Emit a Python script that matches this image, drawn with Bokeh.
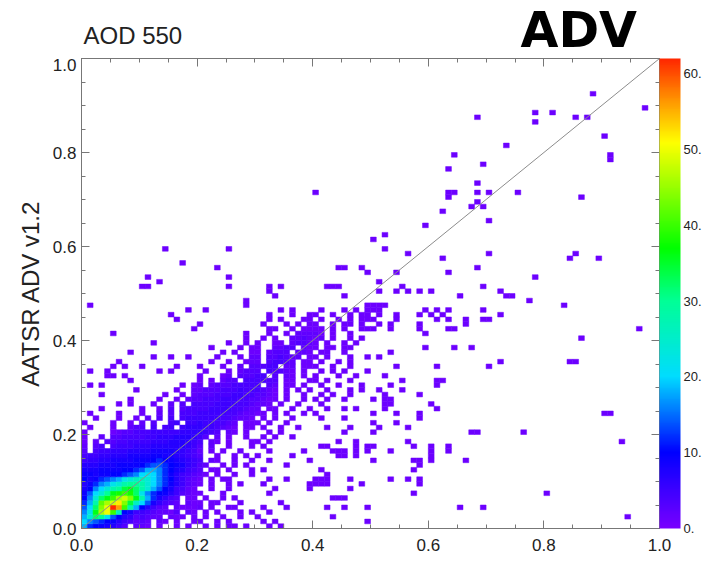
import numpy as np
from bokeh.plotting import figure
from bokeh.layouts import column
from bokeh.core.properties import value
from bokeh.models import (ColumnDataSource, LinearColorMapper, ColorBar, FixedTicker,
                          LinearAxis, SingleIntervalTicker, PrintfTickFormatter, Slope)
from bokeh.embed import file_html
from bokeh.resources import INLINE

# ---------------- data ----------------
BIN = 0.01  # histogram cell size in AOD units

# density rows, j = 0 (y 0.00-0.01) upward; each char is the count of x bin i = 0..59
# '.' = 0, '1'..'9' = 1..9, 'a'..'z' = 10,12,..,60, 'Z' = 62
density_rows = [
    "eba98753.2 21.1..1.1. .1.1.11.1. ..1.1..... .......... ..........",
    "fdcba97542 32.21.1..1 1..1.1.... .1.1...... .........1 ..........",
    "ehlkgca763 4322.211.1 .1..1..1.. 1......... ...1...... ..........",
    "dgnsupia85 5432213.21 .1.1...1.1 ..1....... .......... ..........",
    "cflruZxpje a7532.2111 2.1..11... .1...1.... ..1..1...1 ..........",
    "bejqstvrmi fc86432.21 1.11...1.. ....1..... .......... ..........",
    "adhlnpstrn jeb8643.11 .1..1.1... .......... ...111.... ..........",
    "9cfhknopol gdba975321 1...1..... ..1....... .......... .......1..",
    "8adfhjkmnl jheca85421 ..1..1.... ...1.....1 ......1... ..........",
    "79bdeghjkk jhfdb97532 1.1..1.1.. .1.......1 111.....1. ........1.",
    "a89bcdeghi ihfdba7532 1.1.11.... ..1..1.... 111...1... ...1..1.1.",
    "99899aabcd fgfdb97543 21.1..1..1 .......... ..1....... ..........",
    "8889999aab ceedba8754 3.11.1...1 .1........ .1........ .......1..",
    "7778889999 abccba9865 32..1.1.1. .....1.... .......... ........1.",
    "5667788889 99aba98765 4.21..1..1 ..1......1 .......... 1......11.",
    "4556677788 8899887654 3..1..1.1. 1.....1... ....11.1.. ..........",
    "3.45566677 7788887654 2.1.1..1.. ..1.....1. ...111.1.1 ...1......",
    "2.34.45556 6677777765 3.2..1...1 .1........ .11....1.1 1......1..",
    "1.2.334455 5566677765 4.21.1...1 1.1....... ....1..1.. ......1...",
    "1..2.33444 4556667776 53.2.1..1. .1.1..1... .......... ..........",
    "1....12334 4455555666 6543.21.1. ..1.1..... .....1.... 1.........",
    ".1...1..23 3.4.45.566 6554321.11 .1..1..1.. ..1...1... .1....1...",
    "1....1..1. 2.3..45.55 6554432.11 1.1..1.... .......... 1...1.....",
    "..1...1..1 .2.3.4.455 5555443221 .1.1..1... .1...1.... ........1.",
    ".1....1... 1..2.3.444 5555544322 11.1.1..1. 1......... 1...1...1.",
    "...1...... 1..1.3.344 4455554432 2.11..1..1 ..1..1.1.. ..1.......",
    "......1.1. ..1..2.3.4 4445555443 221.1..1.. .1........ ..11......",
    "........1. ...1..1.23 3444555443 3211.1..1. 1.1..1.... 1.11......",
    "...1...... ....1..1.2 3334445544 3321.1..1. .1.1..1... ..1.....1.",
    ".........1 ......1..2 2333444544 4321.1.1.1 ..1...1.1. .1...1....",
    ".1.1...... .......1.1 2.23334444 4.32.11.1. .1..1...1. ...1......",
    "........1. .......... 1.1.233.44 4433.11..1 1.1...1... .....1....",
    "....11.1.. .......... 1...12.333 44.3.21.1. 1...1..1.. ..1.......",
    ".1..1..... ...1.1.... .1...1.233 3.43321.1. .1.1.1...1 ..........",
    ".....1.1.. 1.....1... 1...1..2.3 3344.22.11 1..1..1... ....1.....",
    "......1... .......... ..1..1..12 2.34432.11 .1..1.1... ..........",
    ".......... ..1..1..1. ...1...1.2 2.334322.1 1.1...1..1 .1........",
    "........1. .......... ....1.1..1 1.2333.221 .11..1.... ...1......",
    ".......... .......... ..1....1.1 1..2233.21 1.11.11... .........1",
    ".......... ..1....... .....1..1. 1..11.2332 1.1..1.1.. ..........",
    ".......... .......... ........1. .1.1..2232 12.1..1.1. ..........",
    ".....1.... .......... ........1. ..1..1.222 21.1..1... .........1",
    ".......... .........1 .......... ..11..1.11 11.1.1..11 1..1....1.",
    ".......... .......... 1......... .1...1.1.1 1..1.11.1. .1.1....1.",
    ".......... ......1... .......... ..1.1...11 .1..1.1.11 1...1.....",
    ".......... .....1.... .......... ..1...1..1 1..1..1.11 .1..1...1.",
    ".......... ........1. .1........ ....1.1... .1...1.1.1 11.......1",
    ".1........ .......... ........1. .......... .........1 111.......",
    ".......... .......... ........1. .......... .......... ..........",
    ".......... .......... .......... ...1...... .....1.... ..........",
]

# isolated single-count cells outside the grid above (x bin, y bin)
outlier_i = [60, 65, 72, 73, 74, 77, 83, 61, 63, 60, 62, 61, 63, 69, 66, 66, 69, 70, 72,
             63, 64, 96, 86, 64, 67, 61, 70, 72, 84, 85, 61, 61, 62, 60, 61, 90, 91,
             67, 68, 76, 93, 60, 63, 60, 66, 80, 65, 69, 94, 58, 60, 63, 60,
             88, 97, 78, 81, 78, 68, 85, 87, 90, 91, 91, 73, 64, 63, 69, 68, 63, 64,
             63, 68, 70, 75, 68, 67, 69, 86, 62, 59, 70, 52, 52, 56, 62, 70, 84, 85,
             89, 54, 63, 68, 78, 55, 69, 51, 40,
             32, 32, 34, 42, 43, 44, 51, 54, 56, 25, 25, 44, 45, 48, 49, 25, 17, 23,
             50, 14, 11, 10, 11, 13]
outlier_j = [50, 49, 50, 49, 49, 48, 47, 46, 46, 45, 45, 44, 44, 46, 44, 43, 44, 44, 45,
             42, 42, 42, 40, 38, 38, 34, 34, 35, 35, 35, 31, 30, 31, 26, 25, 24, 24,
             20, 20, 20, 18, 16, 16, 14, 14, 7, 4, 4, 2, 50, 17, 17, 15,
             92, 89, 88, 88, 86, 87, 87, 87, 83, 79, 78, 81, 79, 76, 77, 73, 71, 71,
             70, 71, 71, 71, 69, 68, 68, 70, 67, 64, 65, 62, 59, 58, 57, 58, 57, 58,
             57, 54, 54, 55, 53, 51, 51, 52, 71,
             51, 50, 51, 51, 51, 51, 50, 50, 50, 51, 53, 55, 55, 55, 54, 59, 56, 55,
             61, 59, 53, 51, 51, 52]

cbar_ticks = [0, 10, 20, 30, 40, 50, 60]
count_max = 62
axis_interval = 0.2
title_text = "AOD 550"
tag_text = "ADV"
ylabel_text = "AATSR ADV v1.2"


def level(ch):
    if ch == ".":
        return 0
    if ch.isdigit():
        return int(ch)
    if ch == "Z":
        return 62
    return 10 + 2 * (ord(ch) - ord("a"))


left, bottom, counts = [], [], []
for j, row in enumerate(density_rows):
    for i, ch in enumerate(row.replace(" ", "")):
        c = level(ch)
        if c > 0:
            left.append(i * BIN)
            bottom.append(j * BIN)
            counts.append(c)
for i, j in zip(outlier_i, outlier_j):
    left.append(i * BIN)
    bottom.append(j * BIN)
    counts.append(1)

src = ColumnDataSource(dict(
    left=left, right=[v + BIN for v in left],
    bottom=bottom, top=[v + BIN for v in bottom], c=counts))

# ---------------- rainbow palette (style) ----------------
anchors = [(0, (120, 0, 255)), (10, (0, 0, 255)), (20, (0, 220, 255)), (30, (0, 255, 150)),
           (37, (0, 255, 0)), (45, (150, 255, 0)), (51, (255, 255, 0)), (56, (255, 160, 0)),
           (62, (255, 40, 0))]
av = np.array([a[0] for a in anchors], float)
ac = np.array([a[1] for a in anchors], float)
palette = []
for v in np.linspace(0, 62, 256):
    rgb = [int(round(np.interp(v, av, ac[:, k]))) for k in range(3)]
    palette.append("#%02x%02x%02x" % tuple(rgb))

mapper = LinearColorMapper(palette=palette, low=0, high=count_max)

# ---------------- styles ----------------
FONT = "Liberation Sans"
AX = "#777777"
TXT = "#222222"
FRAME_L, FRAME_W, FRAME_H = 81, 578, 470
HEAD_H = 58

# ---------------- header (titles), frame aligned with the plot frame ----------------
header = figure(frame_width=FRAME_W, frame_height=HEAD_H,
                x_range=(FRAME_L, FRAME_L + FRAME_W), y_range=(HEAD_H, 0),
                x_axis_type=None, y_axis_type=None, output_backend="svg",
                toolbar_location=None, min_border_left=FRAME_L, min_border_right=0,
                min_border_top=0, min_border_bottom=0)
header.grid.visible = False
header.outline_line_color = None
header.text(x=[83], y=[34.5], text=[title_text], text_font=value(FONT),
            text_font_size="24px", text_color=TXT, text_baseline="middle")
header.text(x=[520], y=[29.5], text=[tag_text], text_font=value("DejaVu Sans"),
            text_font_style="bold", text_font_size="49px", text_color="black",
            text_baseline="middle")

# ---------------- main plot ----------------
p = figure(frame_width=FRAME_W, frame_height=FRAME_H, x_range=(0, 1), y_range=(0, 1),
           output_backend="svg", toolbar_location=None,
           min_border_left=FRAME_L, min_border_top=0, min_border_bottom=28, min_border_right=4)
p.grid.visible = False
p.outline_line_color = AX
p.background_fill_color = "white"
p.border_fill_color = "white"

p.quad(left="left", right="right", bottom="bottom", top="top", source=src,
       fill_color={"field": "c", "transform": mapper},
       line_color={"field": "c", "transform": mapper}, line_width=0.5)

p.add_layout(Slope(gradient=1, y_intercept=0, line_color="#8c8c8c", line_width=1))


def style_axis(ax, show_labels):
    ax.ticker = SingleIntervalTicker(interval=axis_interval, num_minor_ticks=4)
    ax.formatter = PrintfTickFormatter(format="%.1f")
    ax.major_tick_in = 8
    ax.major_tick_out = 0
    ax.minor_tick_in = 4
    ax.minor_tick_out = 0
    ax.axis_line_color = AX
    ax.major_tick_line_color = AX
    ax.minor_tick_line_color = AX
    if show_labels:
        ax.major_label_text_font = FONT
        ax.major_label_text_font_size = "17px"
        ax.major_label_text_color = TXT
    else:
        ax.major_label_text_font_size = "1px"
        ax.major_label_text_color = None
        ax.major_label_standoff = 0


style_axis(p.xaxis[0], True)
style_axis(p.yaxis[0], True)
p.xaxis[0].major_label_standoff = 10
p.yaxis[0].major_label_standoff = 5
p.yaxis[0].axis_label = ylabel_text
p.yaxis[0].axis_label_text_font = FONT
p.yaxis[0].axis_label_text_font_size = "24px"
p.yaxis[0].axis_label_text_font_style = "normal"
p.yaxis[0].axis_label_text_color = TXT
p.yaxis[0].axis_label_standoff = 6

top_ax = LinearAxis()
style_axis(top_ax, False)
p.add_layout(top_ax, "above")
right_ax = LinearAxis()
style_axis(right_ax, False)
p.add_layout(right_ax, "right")

cb = ColorBar(color_mapper=mapper, ticker=FixedTicker(ticks=cbar_ticks),
              formatter=PrintfTickFormatter(format="%d."),
              width=21, margin=0, padding=0, label_standoff=3,
              major_tick_line_color=None, minor_tick_line_color=None,
              bar_line_color=None, border_line_color=None, background_fill_color=None,
              major_label_text_font=FONT, major_label_text_font_size="13px",
              major_label_text_color=TXT)
p.add_layout(cb, "right")

layout = column(header, p, spacing=0)
open("out.html", "w").write(file_html(layout, INLINE))
